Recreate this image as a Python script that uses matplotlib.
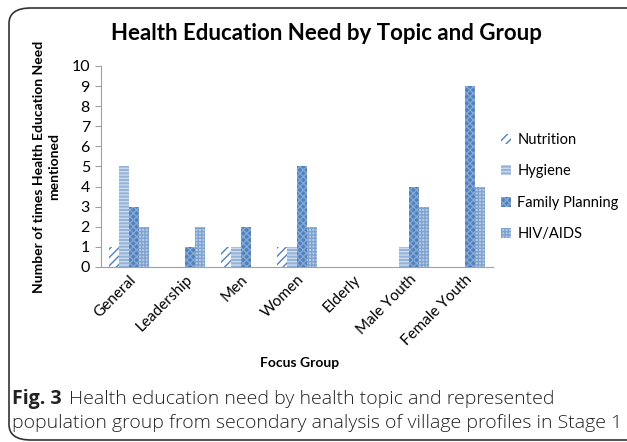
import matplotlib.pyplot as plt
import numpy as np
from matplotlib.patches import FancyBboxPatch

groups = ['General', 'Leadership', 'Men', 'Women', 'Elderly', 'Male Youth', 'Female Youth']
topics = ['Nutrition', 'Hygiene', 'Family Planning', 'HIV/AIDS']
nutrition = [1, 0, 1, 1, 0, 0, 0]
hygiene = [5, 0, 1, 1, 0, 1, 0]
family_planning = [3, 1, 2, 5, 0, 4, 9]
hiv_aids = [2, 2, 0, 2, 0, 3, 4]
yticks = list(range(0, 11))

plt.rcParams['font.family'] = ['Lato', 'DejaVu Sans']
plt.rcParams['hatch.linewidth'] = 1.0

fig = plt.figure(figsize=(6.27, 4.42), dpi=100)
ax = fig.add_axes([101/627, 1-267/442, (493-101)/627, (267-66)/442])

series = [nutrition, hygiene, family_planning, hiv_aids]
styles = [
    dict(facecolor='white', edgecolor='#4F81BD', hatch='////'),
    dict(facecolor='#95B3D7', edgecolor='#C9D9EE', hatch='-----'),
    dict(facecolor='#4F81BD', edgecolor='#86A8D4', hatch='xxxxx'),
    dict(facecolor='#B9CDE5', edgecolor='#7FA3D1', hatch='+++++'),
]
x = np.arange(len(groups))
w = 1 / 5.5
for i, (vals, st) in enumerate(zip(series, styles)):
    ax.bar(x + (i - 1.5) * w, vals, w, linewidth=0, label=topics[i], **st)

ax.set_xlim(-0.5, len(groups) - 0.5)
ax.set_ylim(0, 10)
ax.set_yticks(yticks)
ax.tick_params(axis='y', labelsize=11.5, length=4, color='#A0A0A0', pad=4)
ax.tick_params(axis='x', length=0, labelsize=11, pad=4)
ax.set_xticks(x)
ax.set_xticklabels(groups, rotation=45, ha='right', rotation_mode='anchor')
for s in ['top', 'right']:
    ax.spines[s].set_visible(False)
for s in ['left', 'bottom']:
    ax.spines[s].set_color('#A0A0A0')

ax.set_ylabel('Number of times Health Education Need\nmentioned', fontsize=10,
              fontweight='bold', linespacing=1.35, labelpad=8)
fig.text(300/627, 1-363/442, 'Focus Group', ha='center', va='center',
         fontsize=10, fontweight='bold')
fig.text(326/627, 1-33/442, 'Health Education Need by Topic and Group',
         ha='center', va='center', fontsize=16, fontweight='bold')

ax.legend(loc='center left', bbox_to_anchor=(488/627, 1-187/442),
          bbox_transform=fig.transFigure, frameon=False, fontsize=10.5,
          handlelength=0.7, handleheight=0.7, handletextpad=0.4,
          labelspacing=1.2)

cap = dict(fontsize=14, family=['Open Sans', 'DejaVu Sans'], va='baseline',
           color='#222222')
fig.text(12/627, 1-404/442, 'Fig. 3', fontweight='bold', **cap)
fig.text(69/627, 1-404/442, 'Health education need by health topic and represented',
         fontweight='light', **cap)
fig.text(12/627, 1-428/442,
         'population group from secondary analysis of village profiles in Stage 1',
         fontweight='light', **cap)

box = FancyBboxPatch((9/627, 2/442), 640/627, 432/442,
                     boxstyle='round,pad=0,rounding_size=0.035',
                     transform=fig.transFigure, facecolor='none',
                     edgecolor='#333333', linewidth=1.2, clip_on=False)
fig.patches.append(box)

fig.savefig('out.png', dpi=100)
